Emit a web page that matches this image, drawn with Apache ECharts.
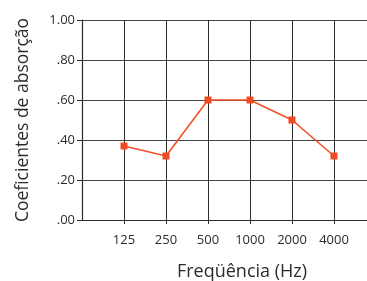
<!DOCTYPE html>
<html>
<head>
<meta charset="utf-8">
<script src="https://cdn.jsdelivr.net/npm/echarts@6/dist/echarts.min.js"></script>
<style>
    html, body { margin: 0; padding: 0; background: #fff; }
    #chart { width: 367px; height: 281px; }
</style>
</head>
<body>
<div id="chart"></div>
<script>
// frequências (Hz) e coeficientes
const freqs = ['125', '250', '500', '1000', '2000', '4000'];
const coefs = [0.37, 0.32, 0.60, 0.60, 0.50, 0.32];
const yTicks = ['.00', '.20', '.40', '.60', '.80', '1.00'];

// uma categoria vazia em cada ponta, para a moldura
const cats = [''].concat(freqs, ['']);
const seriesData = [null].concat(coefs, [null]);

const font = 'Open Sans';
const ink = '#2b2b2b';

let myChart = echarts.init(document.getElementById('chart'));
const opts = {
    animation: false,
    textStyle: { fontFamily: font },
    grid: {
        left: 82,
        top: 20,
        right: -9,
        bottom: 61,
        containLabel: false,
        outerBoundsMode: 'none',
    },
    xAxis: {
        type: 'category',
        data: cats,
        boundaryGap: false,
        name: 'Freqüência (Hz)',
        nameLocation: 'middle',
        nameGap: 43,
        nameTextStyle: { fontSize: 18, color: ink, padding: [0, 0, 0, 26] },
        axisLine: { lineStyle: { color: ink, width: 1.2 } },
        axisTick: {
            length: 4,
            interval: (i, v) => v !== '',
            lineStyle: { color: ink },
        },
        axisLabel: { fontSize: 13, color: ink, margin: 14, interval: 0 },
        splitLine: {
            show: true,
            interval: (i, v) => v !== '',
            lineStyle: { color: ink, width: 1 },
        },
    },
    yAxis: {
        type: 'value',
        min: 0,
        max: 1,
        interval: 0.2,
        name: 'Coeficientes de absorção',
        nameLocation: 'middle',
        nameGap: 50,
        nameTextStyle: { fontSize: 17.5, color: ink },
        axisLine: { show: true, lineStyle: { color: ink, width: 1.2 } },
        axisTick: { show: true, length: 5, lineStyle: { color: ink } },
        axisLabel: {
            fontSize: 13,
            color: ink,
            margin: 7,
            formatter: (v) => yTicks[Math.round(v * 5)],
        },
        splitLine: { lineStyle: { color: '#444', width: 1 } },
    },
    series: [
        {
            type: 'line',
            data: seriesData,
            symbol: 'rect',
            symbolSize: 7,
            lineStyle: { color: '#f05228', width: 1.6 },
            itemStyle: { color: '#f04a22' },
        },
    ],
};
myChart.setOption(opts);
</script>
</body>
</html>
